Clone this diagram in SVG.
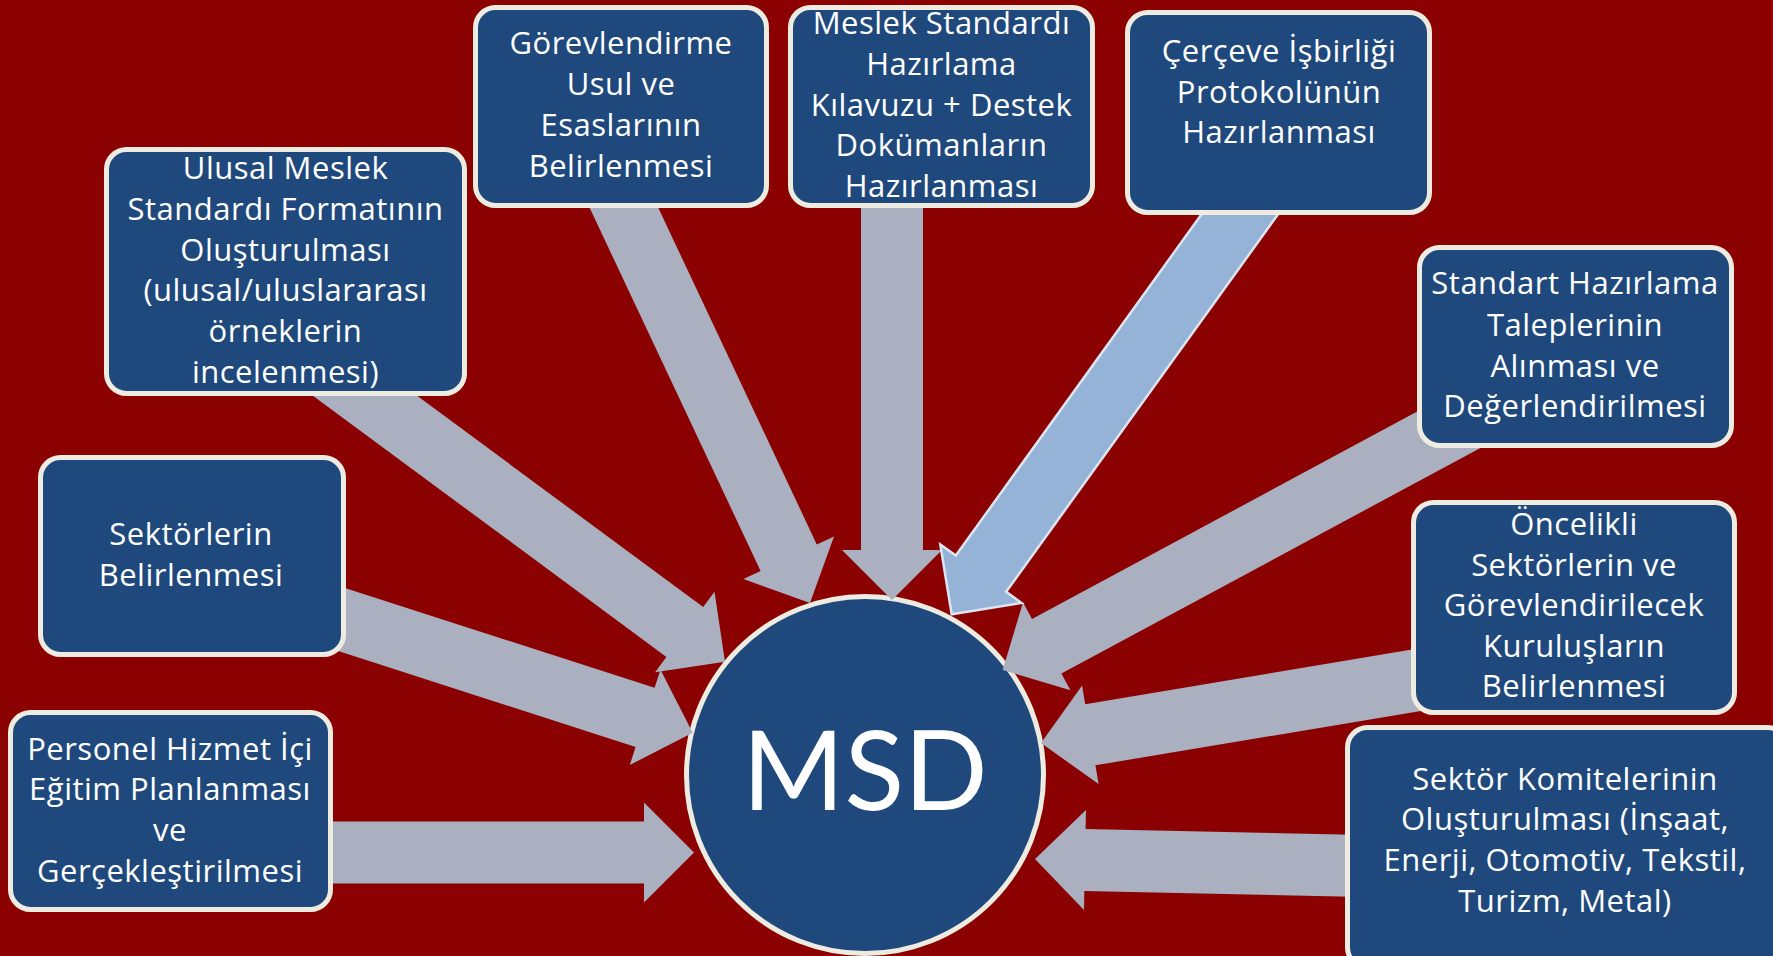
<svg xmlns="http://www.w3.org/2000/svg" width="1773" height="956" viewBox="0 0 1773 956">
<style>
.bg{fill:#8B0000}
.box{fill:#1F497D;stroke:#EEECE1;stroke-width:5}
.arr{fill:#AAB0BF}
.arrb{fill:#95B3D7;stroke:#DBE5F1;stroke-width:2.5;stroke-linejoin:miter}
.t{font-family:"Open Sans","Noto Sans","Liberation Sans",sans-serif;font-size:31px;letter-spacing:0.5px;fill:#FFFFFF;text-anchor:middle}
.big{font-family:Lato,"Open Sans","Liberation Sans",sans-serif;font-size:110px;fill:#FFFFFF;text-anchor:middle}
</style>
<rect class="bg" x="0" y="0" width="1773" height="956"/>
<g id="msd">
<circle cx="865" cy="775" r="178.5" fill="#1F497D" stroke="#EEECE1" stroke-width="5"/>
<text class="big" x="865" y="810">MSD</text>
</g>
<g id="connectors">
<polygon class="arr" points="288.5,377.7 666.4,656.9 655.1,672.2 725,661.7 714.5,591.8 703.2,607.1 325.3,327.9"/>
<polygon class="arr" points="568.9,163.7 760.6,571 743.5,579.1 810,603 834,536.5 816.8,544.5 625.1,137.3"/>
<polygon class="arr" points="861,150 861,550 842,550 892,600 942,550 923,550 923,150"/>
<polygon class="arr" points="1485.4,374.8 1032,619 1023,602.3 1002.7,670 1070.4,690.3 1061.4,673.6 1514.8,429.4"/>
<polygon class="arr" points="1474.8,639 1085.2,704.2 1082.1,685.5 1041,743 1098.6,784.1 1095.4,765.3 1485,700.2"/>
<polygon class="arr" points="1435.6,836.4 1085.6,829 1086,810 1035,859 1084,910 1084.3,891 1434.3,898.4"/>
<polygon class="arr" points="291,635.8 635.6,746.9 629.8,765 692.7,732.7 660.5,669.8 654.6,687.8 310,576.8"/>
<polygon class="arr" points="300,883.5 644,883.5 644,902.5 694,852.5 644,802.5 644,821.5 300,821.5"/>
<polygon class="arrb" points="1260.8,132 955.8,555.6 940.3,544.5 951.7,614.3 1021.5,602.9 1006.1,591.8 1311.2,168.2"/>
</g>
<g id="n-ulusal">
<rect class="box" x="106.5" y="149.5" width="358" height="244" rx="20"/>
<text class="t" x="285.5" y="179">Ulusal Meslek</text>
<text class="t" x="285.5" y="220">Standardı Formatının</text>
<text class="t" x="285.5" y="261">Oluşturulması</text>
<text class="t" x="285.5" y="301">(ulusal/uluslararası</text>
<text class="t" x="285.5" y="342">örneklerin</text>
<text class="t" x="285.5" y="383">incelenmesi)</text>
</g>
<g id="n-gorev">
<rect class="box" x="475.5" y="7.5" width="291" height="198" rx="20"/>
<text class="t" x="621" y="54">Görevlendirme</text>
<text class="t" x="621" y="95">Usul ve</text>
<text class="t" x="621" y="136">Esaslarının</text>
<text class="t" x="621" y="177">Belirlenmesi</text>
</g>
<g id="n-meslek">
<rect class="box" x="790.5" y="7.5" width="302" height="198" rx="20"/>
<text class="t" x="941.5" y="34">Meslek Standardı</text>
<text class="t" x="941.5" y="75">Hazırlama</text>
<text class="t" x="941.5" y="116">Kılavuzu + Destek</text>
<text class="t" x="941.5" y="156">Dokümanların</text>
<text class="t" x="941.5" y="197">Hazırlanması</text>
</g>
<g id="n-cerceve">
<rect class="box" x="1127.5" y="12.5" width="302" height="200" rx="20"/>
<text class="t" x="1279" y="62">Çerçeve İşbirliği</text>
<text class="t" x="1279" y="103">Protokolünün</text>
<text class="t" x="1279" y="143">Hazırlanması</text>
</g>
<g id="n-standart">
<rect class="box" x="1419.5" y="247.5" width="312" height="198" rx="20"/>
<text class="t" x="1575" y="294">Standart Hazırlama</text>
<text class="t" x="1575" y="336">Taleplerinin</text>
<text class="t" x="1575" y="377">Alınması ve</text>
<text class="t" x="1575" y="417">Değerlendirilmesi</text>
</g>
<g id="n-oncelikli">
<rect class="box" x="1413.5" y="502.5" width="321" height="210" rx="20"/>
<text class="t" x="1574" y="535">Öncelikli</text>
<text class="t" x="1574" y="576">Sektörlerin ve</text>
<text class="t" x="1574" y="616">Görevlendirilecek</text>
<text class="t" x="1574" y="657">Kuruluşların</text>
<text class="t" x="1574" y="697">Belirlenmesi</text>
</g>
<g id="n-komite">
<rect class="box" x="1347.5" y="727.5" width="440" height="240" rx="20"/>
<text class="t" x="1565" y="790">Sektör Komitelerinin</text>
<text class="t" x="1565" y="830">Oluşturulması (İnşaat,</text>
<text class="t" x="1565" y="871">Enerji, Otomotiv, Tekstil,</text>
<text class="t" x="1565" y="912">Turizm, Metal)</text>
</g>
<g id="n-sektorler">
<rect class="box" x="40.5" y="457.5" width="303" height="197" rx="20"/>
<text class="t" x="191" y="545">Sektörlerin</text>
<text class="t" x="191" y="586">Belirlenmesi</text>
</g>
<g id="n-personel">
<rect class="box" x="10.5" y="712.5" width="320" height="197" rx="20"/>
<text class="t" x="170" y="760">Personel Hizmet İçi</text>
<text class="t" x="170" y="800">Eğitim Planlanması</text>
<text class="t" x="170" y="841">ve</text>
<text class="t" x="170" y="882">Gerçekleştirilmesi</text>
</g>
</svg>
